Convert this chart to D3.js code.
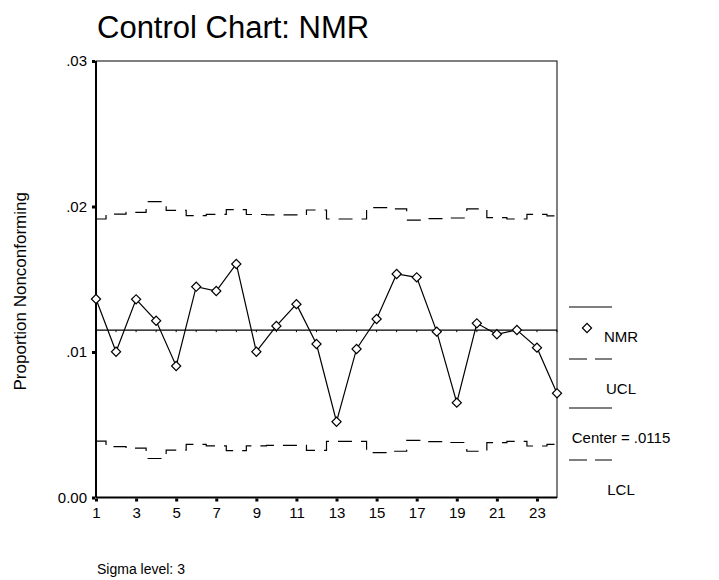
<!DOCTYPE html>
<html>
<head>
<meta charset="utf-8">
<script src="https://cdn.jsdelivr.net/npm/d3@7"></script>
<style>
  body { margin: 0; background: #fff; }
  text { font-family: "Liberation Sans", Arial, sans-serif; fill: #000; }
</style>
</head>
<body>
<div id="chart"></div>
<script>
// sample numbers and the proportion nonconforming for each one
const samples = [1, 2, 3, 4, 5, 6, 7, 8, 9, 10, 11, 12, 13, 14, 15, 16, 17, 18, 19, 20, 21, 22, 23, 24];
const nmr = [0.01364, 0.01002, 0.01362, 0.01215, 0.00904, 0.01449, 0.01419, 0.01605,
             0.01002, 0.01179, 0.01329, 0.01055, 0.00521, 0.01021, 0.01227, 0.01536,
             0.01513, 0.01140, 0.00652, 0.01197, 0.01122, 0.01151, 0.01030, 0.00716];
// control limits change with sample size
const ucl = [0.01914, 0.01948, 0.01960, 0.02033, 0.01974, 0.01937, 0.01946, 0.01978,
             0.01945, 0.01942, 0.01942, 0.01976, 0.01914, 0.01914, 0.01992, 0.01983,
             0.01907, 0.01916, 0.01921, 0.01983, 0.01923, 0.01914, 0.01946, 0.01935];
const lcl = [0.00388, 0.00350, 0.00340, 0.00268, 0.00325, 0.00365, 0.00355, 0.00322,
             0.00355, 0.00358, 0.00358, 0.00324, 0.00386, 0.00386, 0.00308, 0.00318,
             0.00392, 0.00384, 0.00378, 0.00318, 0.00377, 0.00386, 0.00354, 0.00365];
const center = 0.0115;

const xTicks = [1, 3, 5, 7, 9, 11, 13, 15, 17, 19, 21, 23];
const yTicks = [0, 0.01, 0.02, 0.03];
const yTickLabels = ["0.00", ".01", ".02", ".03"];
const legendLabels = ["NMR", "UCL", "Center = .0115", "LCL"];

const width = 719, height = 580;
const marginLeft = 96, marginRight = 162, marginTop = 61, marginBottom = 82.5;

const x = d3.scaleLinear([1, 24], [marginLeft, width - marginRight]);
const y = d3.scaleLinear([0, 0.03], [height - marginBottom, marginTop]);

const svg = d3.select("#chart")
  .append("svg")
  .attr("width", width)
  .attr("height", height)
  .attr("viewBox", [0, 0, width, height]);

// title
svg.append("text")
  .attr("x", 97)
  .attr("y", 38)
  .attr("font-size", 31)
  .text("Control Chart: NMR");

// plot frame
svg.append("rect")
  .attr("x", marginLeft)
  .attr("y", marginTop)
  .attr("width", x(24) - marginLeft)
  .attr("height", y(0) - marginTop)
  .attr("fill", "none")
  .attr("stroke", "#000")
  .attr("stroke-width", 1);

// heavier left and bottom axis lines
svg.append("line")
  .attr("x1", marginLeft).attr("x2", marginLeft)
  .attr("y1", marginTop).attr("y2", y(0))
  .attr("stroke", "#000").attr("stroke-width", 2);
svg.append("line")
  .attr("x1", marginLeft).attr("x2", x(24))
  .attr("y1", y(0)).attr("y2", y(0))
  .attr("stroke", "#000").attr("stroke-width", 2);

// axes: ticks are small square marks
const yAxis = d3.axisLeft(y)
  .tickValues(yTicks)
  .tickFormat((d, i) => yTickLabels[i])
  .tickSizeInner(3)
  .tickSizeOuter(0)
  .tickPadding(5);

svg.append("g")
  .attr("transform", `translate(${marginLeft - 1},0)`)
  .call(yAxis)
  .call((g) => g.select(".domain").remove())
  .call((g) => g.selectAll(".tick line").attr("stroke-width", 3))
  .call((g) => g.selectAll(".tick text")
    .attr("font-size", 15)
    .attr("font-family", "Liberation Sans, Arial, sans-serif"));

const xAxis = d3.axisBottom(x)
  .tickValues(xTicks)
  .tickFormat(d3.format("d"))
  .tickSizeInner(3)
  .tickSizeOuter(0)
  .tickPadding(6);

svg.append("g")
  .attr("transform", `translate(0,${y(0) + 1})`)
  .call(xAxis)
  .call((g) => g.select(".domain").remove())
  .call((g) => g.selectAll(".tick line").attr("stroke-width", 3))
  .call((g) => g.selectAll(".tick text")
    .attr("font-size", 15)
    .attr("font-family", "Liberation Sans, Arial, sans-serif"));

// y label
svg.append("text")
  .attr("transform", `translate(26,${(marginTop + y(0)) / 2 + 12}) rotate(-90)`)
  .attr("text-anchor", "middle")
  .attr("font-size", 17)
  .text("Proportion Nonconforming");

// control limits drawn as dashed steps
const stepLine = d3.line()
  .curve(d3.curveStep)
  .x((d, i) => x(samples[i]))
  .y((d) => y(d));

[ucl, lcl].forEach((limit) => {
  svg.append("path")
    .attr("fill", "none")
    .attr("stroke", "#000")
    .attr("stroke-width", 1.2)
    .attr("stroke-dasharray", "14,9")
    .attr("d", stepLine(limit));
});

// center line, with small marks at each sample
svg.append("line")
  .attr("x1", marginLeft).attr("x2", x(24))
  .attr("y1", y(center)).attr("y2", y(center))
  .attr("stroke", "#000").attr("stroke-width", 1.2);

svg.append("g")
  .selectAll("line")
  .data(samples)
  .join("line")
  .attr("x1", (d) => x(d)).attr("x2", (d) => x(d))
  .attr("y1", y(center)).attr("y2", y(center) + 2)
  .attr("stroke", "#000").attr("stroke-width", 1);

// data line
const line = d3.line()
  .x((d, i) => x(samples[i]))
  .y((d) => y(d));

svg.append("path")
  .attr("fill", "none")
  .attr("stroke", "#000")
  .attr("stroke-width", 1.2)
  .attr("d", line(nmr));

// diamond markers
const diamond = d3.symbol().type(d3.symbolSquare).size(42);

svg.append("g")
  .selectAll("path")
  .data(nmr)
  .join("path")
  .attr("d", diamond)
  .attr("transform", (d, i) => `translate(${x(samples[i])},${y(d)}) rotate(45)`)
  .attr("fill", "#fff")
  .attr("stroke", "#000")
  .attr("stroke-width", 1.2);

// legend
const legend = svg.append("g");
const lx1 = 569, lx2 = 612, labelX = 621;
const rowTop = [307, 359, 408, 460];

legendLabels.forEach((label, i) => {
  const top = rowTop[i];
  legend.append("line")
    .attr("x1", lx1).attr("x2", lx2)
    .attr("y1", top).attr("y2", top)
    .attr("stroke", "#000")
    .attr("stroke-width", 1.2)
    .attr("stroke-dasharray", i % 2 === 1 ? "18,8" : null);
  legend.append("text")
    .attr("x", labelX)
    .attr("y", top + 35)
    .attr("text-anchor", "middle")
    .attr("font-size", 15)
    .text(label);
});

legend.append("path")
  .attr("d", diamond)
  .attr("transform", `translate(587,328) rotate(45)`)
  .attr("fill", "#fff")
  .attr("stroke", "#000")
  .attr("stroke-width", 1.2);

// footnote
svg.append("text")
  .attr("x", 97)
  .attr("y", 574)
  .attr("font-size", 14)
  .text("Sigma level: 3");
</script>
</body>
</html>
